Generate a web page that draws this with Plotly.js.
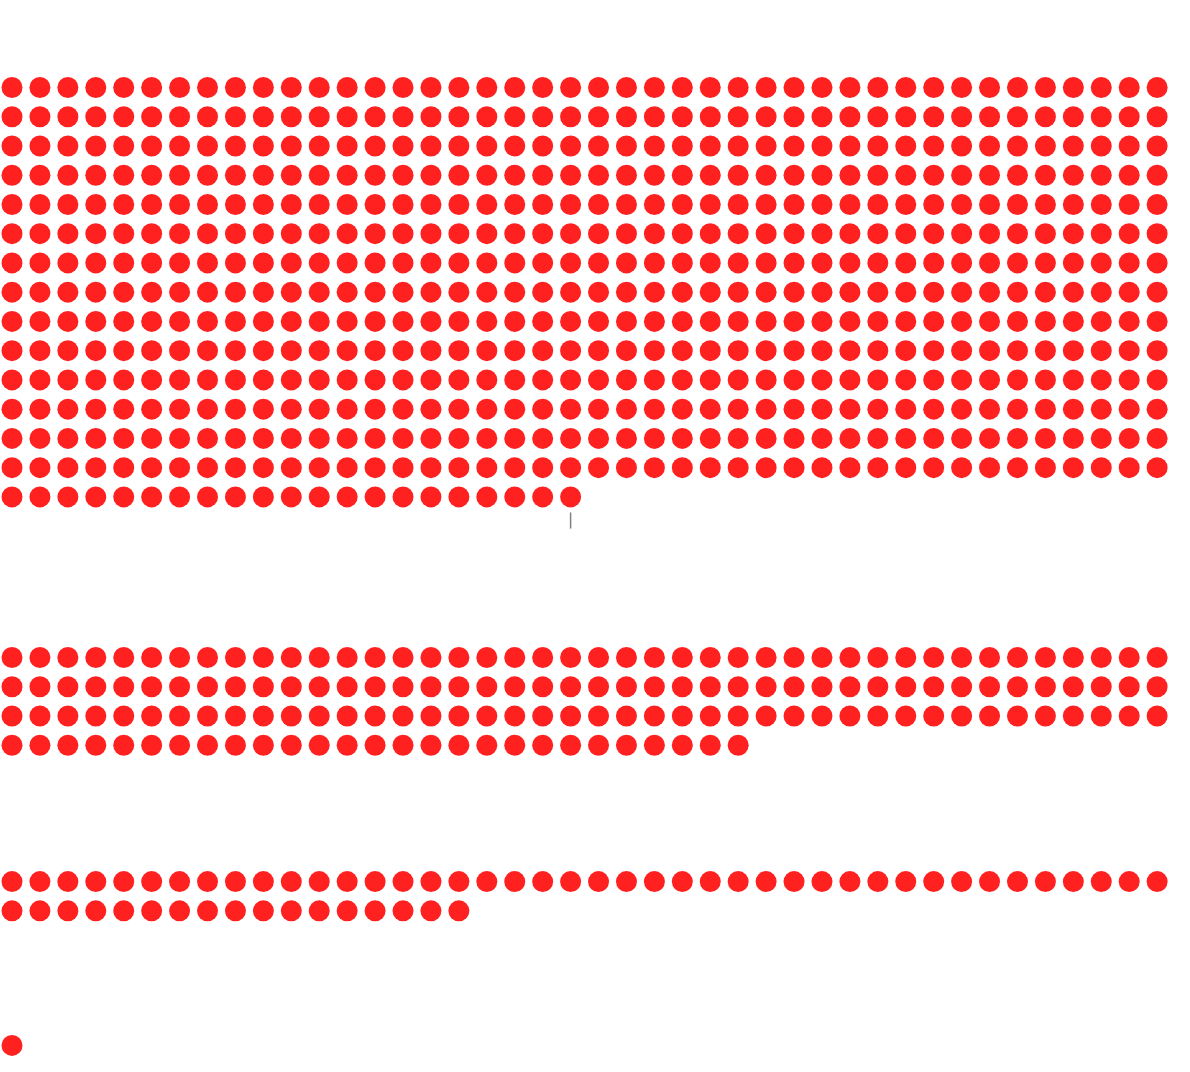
<!DOCTYPE html>
<html>
<head>
<meta charset="utf-8">
<script src="https://cdn.plot.ly/plotly-3.0.1.min.js"></script>
<style>
  html, body { margin: 0; padding: 0; background: #ffffff; }
  #chart { width: 1190px; height: 1072px; }
</style>
</head>
<body>
<div id="chart"></div>
<script>
// ---- data ----
var categories = ["Group 1", "Group 2", "Group 3", "Group 4"];
var counts = [609, 153, 59, 1];

// ---- layout parameters ----
var perRow = 42;
var groupStartRow = [0, 19.49, 27.15, 32.75];
var dotColor = "#ff2020";

var xs = [], ys = [], texts = [];
categories.forEach(function (cat, g) {
  for (var i = 0; i < counts[g]; i++) {
    xs.push(i % perRow);
    ys.push(groupStartRow[g] + Math.floor(i / perRow));
    texts.push(cat + ": " + counts[g]);
  }
});

// marker tick under the last dot of the first group
var lastIdx = counts[0] - 1;
var tickX = lastIdx % perRow;
var tickRow = groupStartRow[0] + Math.floor(lastIdx / perRow);

var trace = {
  type: "scatter",
  mode: "markers",
  x: xs,
  y: ys,
  text: texts,
  hoverinfo: "text",
  marker: { size: 21, color: dotColor, line: { width: 0 } }
};

var layout = {
  width: 1190,
  height: 1072,
  margin: { l: 0, r: 0, t: 0, b: 0, pad: 0 },
  paper_bgcolor: "#ffffff",
  plot_bgcolor: "#ffffff",
  showlegend: false,
  xaxis: { range: [-0.4297, 42.177], visible: false, fixedrange: true },
  yaxis: { range: [33.66, -2.99], visible: false, fixedrange: true },
  shapes: [{
    type: "line",
    xref: "x", yref: "y",
    x0: tickX, x1: tickX,
    y0: tickRow + 0.53, y1: tickRow + 1.08,
    line: { color: "#808080", width: 1.5 }
  }],
  hovermode: "closest"
};

Plotly.newPlot("chart", [trace], layout, { displayModeBar: false, responsive: false });
</script>
</body>
</html>
